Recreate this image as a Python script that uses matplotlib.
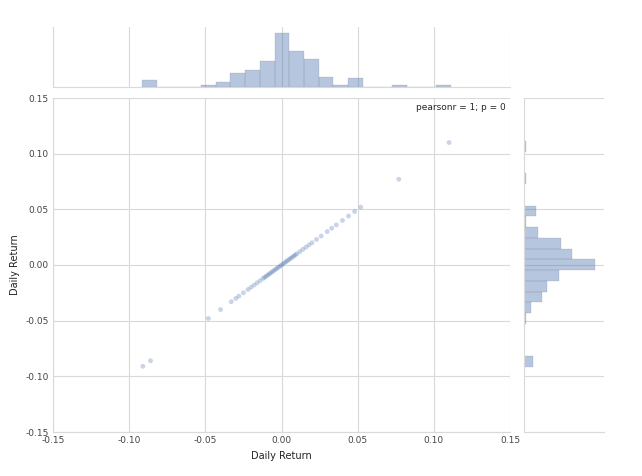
import numpy as np
import matplotlib
matplotlib.use("Agg")
import matplotlib.pyplot as plt
import seaborn as sns

sns.set_style("whitegrid")
plt.rcParams['font.family'] = ['DejaVu Sans']

bin_edges = np.linspace(-0.0914, 0.1112, 22)
counts = [4, 0, 0, 0, 1, 3, 8, 10, 15, 31, 21, 16, 6, 1, 5, 0, 0, 1, 0, 0, 1]
scatter_returns = [-0.091, -0.086, -0.048, -0.040, -0.033, -0.030, -0.028, -0.025,
                   -0.022, -0.020, -0.018, -0.016, -0.014, -0.012, -0.011, -0.010,
                   -0.009, -0.008, -0.007, -0.006, -0.005, -0.004, -0.003, -0.002,
                   -0.001, 0.000, 0.001, 0.002, 0.003, 0.004, 0.005, 0.006, 0.007,
                   0.008, 0.009, 0.010, 0.012, 0.014, 0.016, 0.018, 0.020, 0.023,
                   0.026, 0.030, 0.033, 0.036, 0.040, 0.044, 0.048, 0.052, 0.077, 0.110]

color = "#4C72B0"
grid_c = "#d9d9d9"
fig = plt.figure(figsize=(6.42, 4.76), dpi=100)
W, H = 642, 476
ax = fig.add_axes([53/W, 1-432/H, 457/W, 334/H])
axt = fig.add_axes([53/W, 1-87/H, 457/W, 60/H], sharex=ax)
axr = fig.add_axes([524/W, 1-432/H, 80/W, 334/H], sharey=ax)

ax.scatter(scatter_returns, scatter_returns, s=12, color=color, alpha=0.3, edgecolor='none')
ax.set_xlim(-0.15, 0.15)
ax.set_ylim(-0.15, 0.15)
ticks = [-0.15, -0.10, -0.05, 0.00, 0.05, 0.10, 0.15]
ax.set_xticks(ticks)
ax.set_yticks(ticks)
ax.set_xticklabels([f"{t:.2f}" for t in ticks])
ax.set_yticklabels([f"{t:.2f}" for t in ticks])
ax.tick_params(labelsize=6.5, colors='#444444', length=0, pad=3)
ax.set_xlabel("Daily Return", fontsize=7, color='#222222')
ax.set_ylabel("Daily Return", fontsize=7, color='#222222')
ax.text(0.99, 0.985, "pearsonr = 1; p = 0", transform=ax.transAxes, ha='right', va='top', fontsize=6.5)

centers = (bin_edges[:-1] + bin_edges[1:]) / 2
axt.hist(centers, bins=bin_edges, weights=counts, color=color, alpha=0.4, edgecolor='#777777', linewidth=0.3)
axr.hist(centers, bins=bin_edges, weights=counts, color=color, alpha=0.4, edgecolor='#777777', linewidth=0.3, orientation='horizontal')
axt.set_ylim(0, max(counts) * 1.12)
axr.set_xlim(0, max(counts) * 1.12)
for a in (ax, axt, axr):
    a.grid(color=grid_c, linewidth=0.8)
    for s in a.spines.values():
        s.set_color(grid_c)
for a in (axt, axr):
    a.tick_params(labelbottom=False, labelleft=False, length=0)
    for s in ('top', 'right'):
        a.spines[s].set_visible(False)
axt.set_yticks([])
axr.set_xticks([])
for s in ('top', 'right'):
    ax.spines[s].set_visible(False)
fig.savefig("out.png", dpi=100)
